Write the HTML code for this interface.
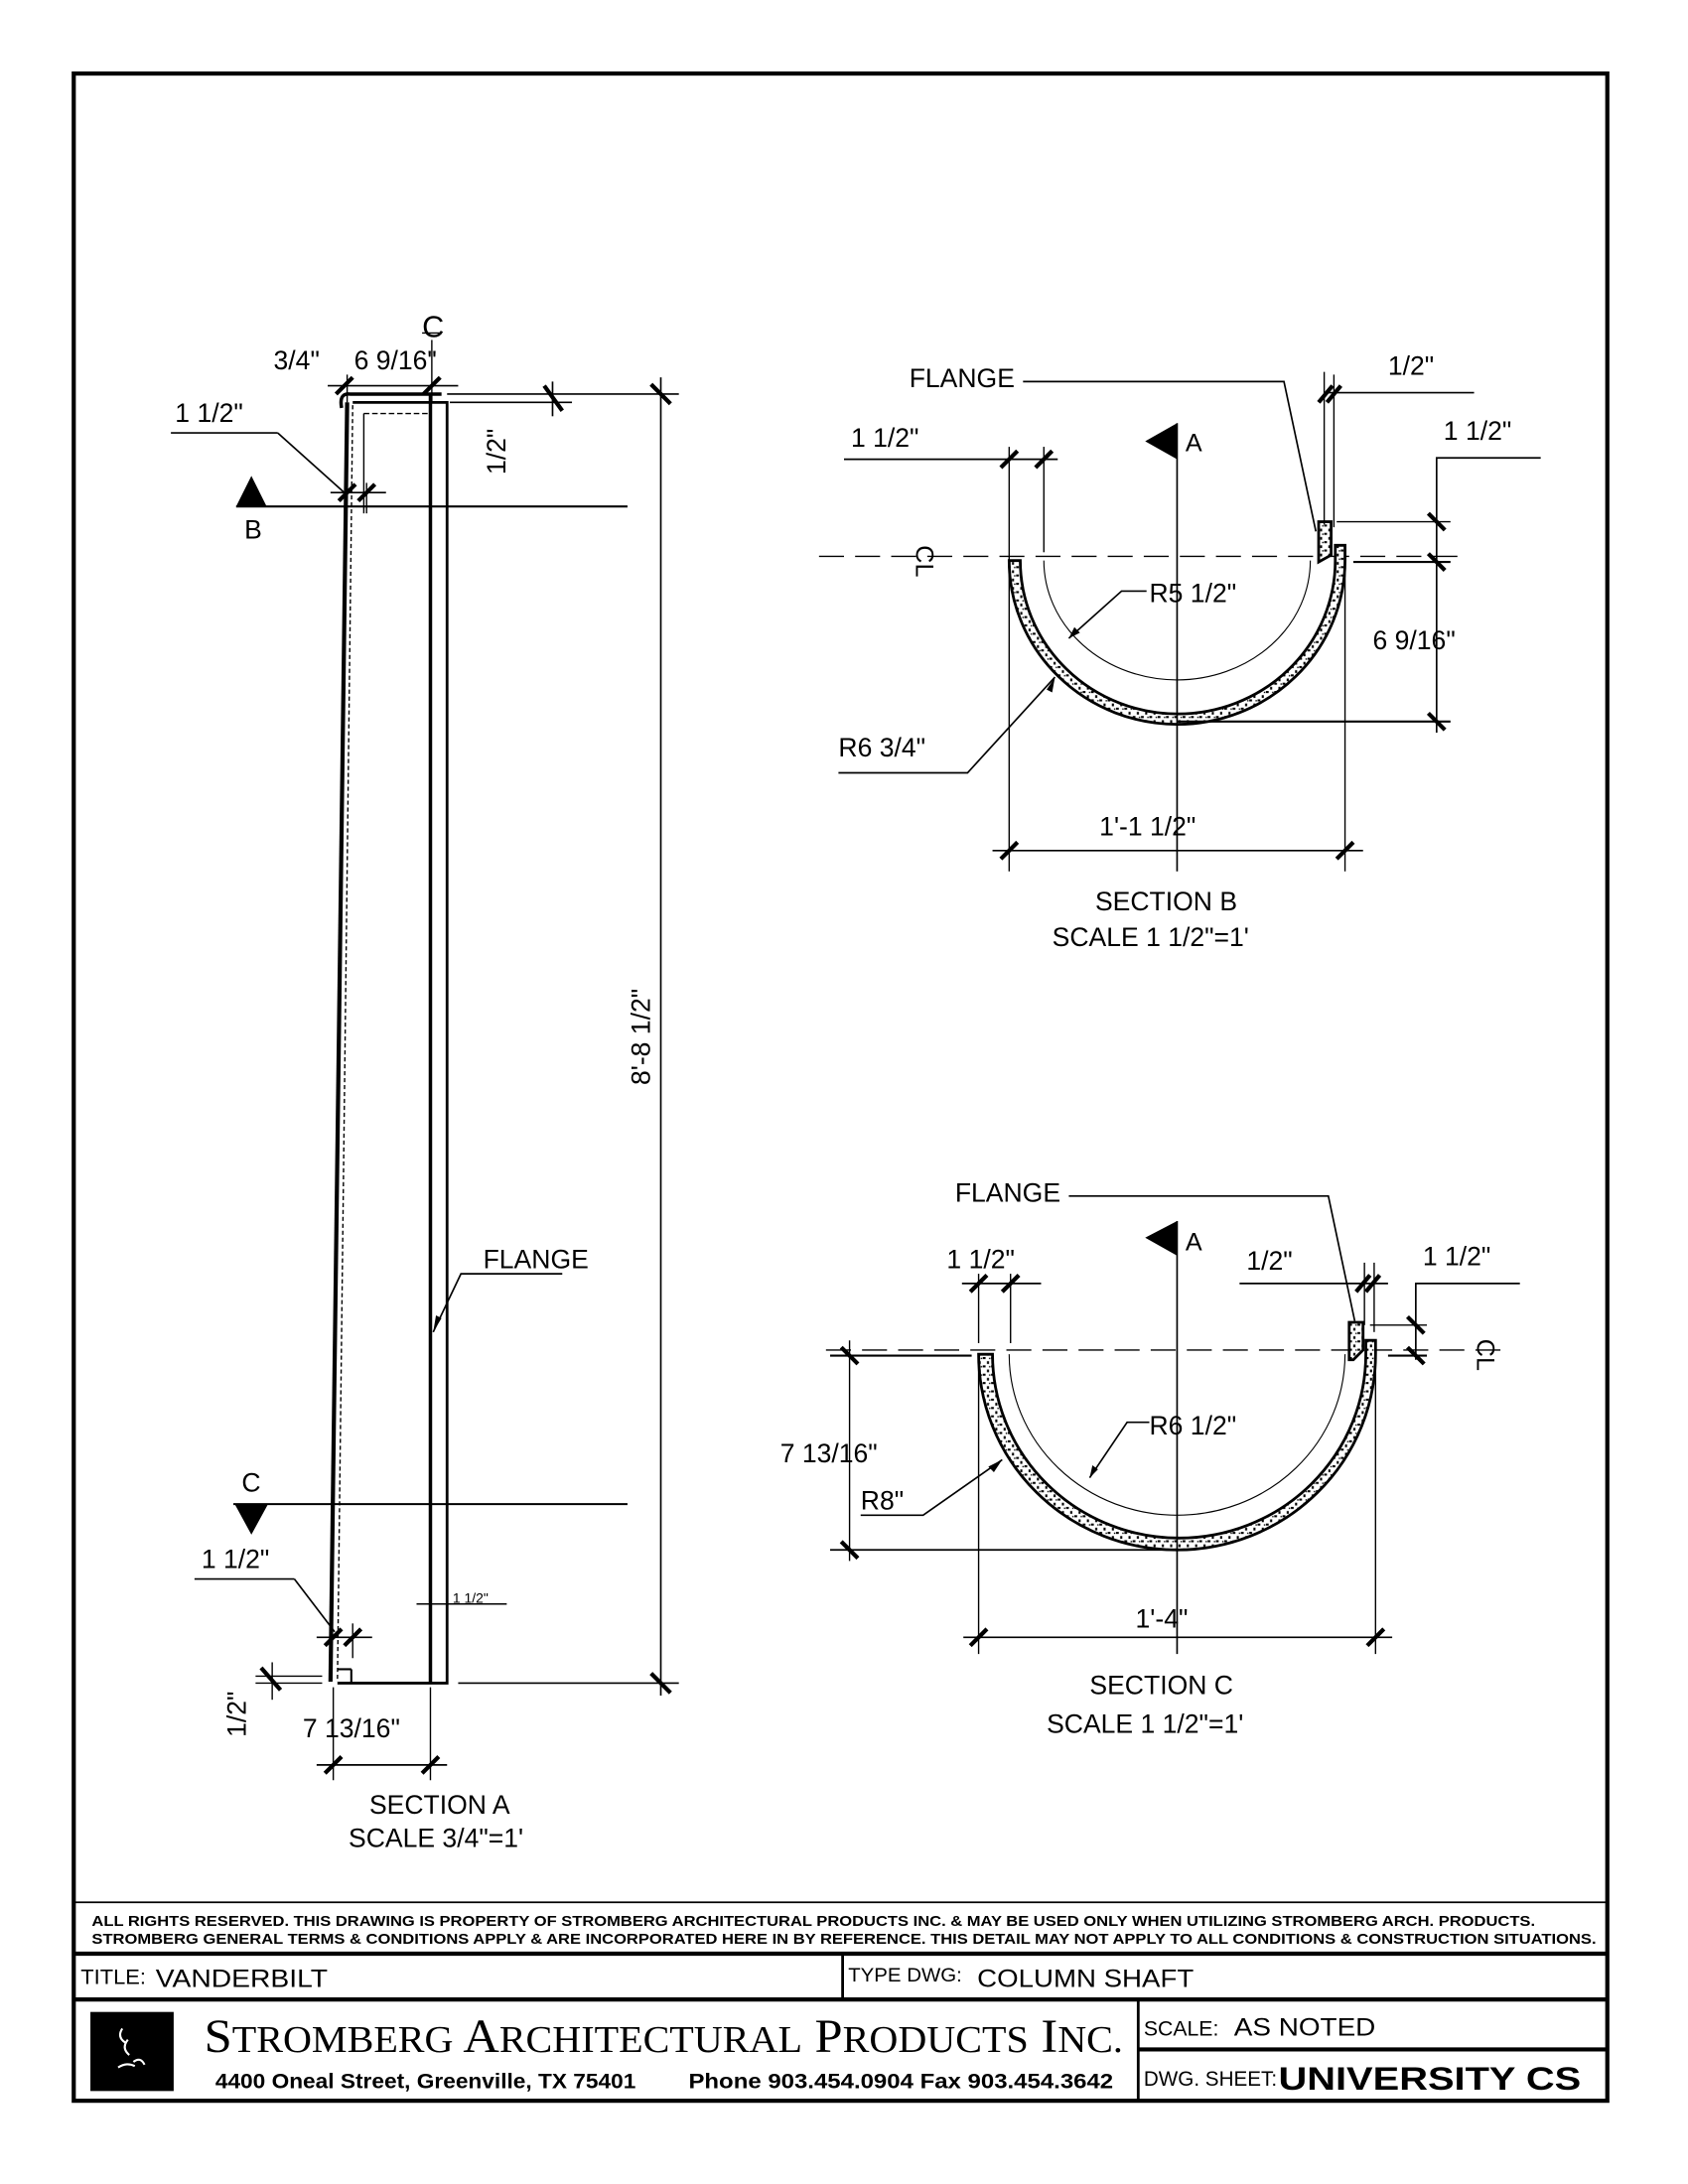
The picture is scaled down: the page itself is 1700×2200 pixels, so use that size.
<!DOCTYPE html>
<html><head><meta charset="utf-8"><style>
html,body{margin:0;padding:0;background:#fff;}
svg{display:block;}
.t{font-family:"Liberation Sans",sans-serif;font-size:19px;fill:#000;}
.d{font-family:"Liberation Sans",sans-serif;font-weight:bold;fill:#000;}
</style></head><body>
<svg width="1700" height="2200" viewBox="0 0 1216 1574" xmlns="http://www.w3.org/2000/svg">
<defs>
<pattern id="hat" width="6" height="6" patternUnits="userSpaceOnUse">
<rect width="6" height="6" fill="#fff"/>
<rect x="0" y="0" width="2" height="1.5" fill="#000"/><rect x="3" y="3" width="1.5" height="2" fill="#000"/><rect x="4.5" y="0.5" width="1" height="1" fill="#000"/>
</pattern>
</defs>
<g stroke="#000" fill="none">
<rect x="53" y="53" width="1105" height="1461" stroke-width="3"/>
<line x1="53" y1="1371" x2="1158" y2="1371" stroke-width="1.2"/>
<line x1="53" y1="1408" x2="1158" y2="1408" stroke-width="3"/>
<line x1="53" y1="1441" x2="1158" y2="1441" stroke-width="3"/>
<line x1="607" y1="1408" x2="607" y2="1441" stroke-width="2"/>
<line x1="820" y1="1441" x2="820" y2="1514" stroke-width="2"/>
<line x1="820" y1="1477" x2="1158" y2="1477" stroke-width="3"/>

<path d="M250 290 L238 1212" stroke-width="3"/>
<path d="M254 292 L243 1212" stroke-width="1" stroke-dasharray="3 2"/>
<path d="M246 294 Q244 283 252 284 L318 284" stroke-width="2.5"/>
<path d="M254 290 L322 290 L322 1213 L243 1213" stroke-width="2"/>
<line x1="310" y1="284" x2="310" y2="1213" stroke-width="2.5"/>
<line x1="262" y1="298" x2="310" y2="298" stroke-width="1" stroke-dasharray="4 2"/>
<line x1="262" y1="298" x2="262" y2="370" stroke-width="1"/>
<line x1="243" y1="1203" x2="253" y2="1203" stroke-width="1.5"/>
<line x1="253" y1="1203" x2="253" y2="1213" stroke-width="1.5"/>
<line x1="322" y1="284" x2="489" y2="284" stroke-width="1.2"/>
<line x1="476" y1="272" x2="476" y2="1222" stroke-width="1.2"/>
<line x1="330" y1="1213" x2="489" y2="1213" stroke-width="1.2"/>
<line x1="324" y1="290" x2="412" y2="290" stroke-width="1.2"/>
<line x1="398" y1="275" x2="398" y2="300" stroke-width="1.2"/>
<line x1="236" y1="278" x2="330" y2="278" stroke-width="1.2"/>
<line x1="250" y1="270" x2="250" y2="290" stroke-width="1"/>
<line x1="311" y1="245" x2="311" y2="290" stroke-width="1"/>
<line x1="123" y1="312" x2="200" y2="312" stroke-width="1.2"/>
<line x1="200" y1="312" x2="248" y2="355" stroke-width="1.2"/>
<line x1="238" y1="355" x2="278" y2="355" stroke-width="1.2"/>
<line x1="264" y1="348" x2="264" y2="370" stroke-width="1"/>
<line x1="170" y1="365" x2="452" y2="365" stroke-width="1.5"/>
<line x1="168" y1="1084" x2="452" y2="1084" stroke-width="1.5"/>
<line x1="140" y1="1138" x2="212" y2="1138" stroke-width="1.2"/>
<line x1="212" y1="1138" x2="241" y2="1176" stroke-width="1.2"/>
<line x1="228" y1="1180" x2="268" y2="1180" stroke-width="1.2"/>
<line x1="254" y1="1170" x2="254" y2="1195" stroke-width="1"/>
<line x1="184" y1="1208" x2="232" y2="1208" stroke-width="1"/>
<line x1="184" y1="1213" x2="232" y2="1213" stroke-width="1"/>
<line x1="196" y1="1198" x2="196" y2="1225" stroke-width="1"/>
<line x1="240" y1="1216" x2="240" y2="1283" stroke-width="1"/>
<line x1="310" y1="1216" x2="310" y2="1283" stroke-width="1"/>
<line x1="228" y1="1272" x2="322" y2="1272" stroke-width="1.2"/>
<line x1="300" y1="1156" x2="365" y2="1156" stroke-width="1"/>
<polyline points="405,918 332,918 312,960" stroke-width="1.2"/>
<g stroke-width="3">
<line x1="242" y1="284" x2="254" y2="272"/><line x1="305" y1="284" x2="317" y2="272"/>
<line x1="392" y1="278" x2="405" y2="296"/><line x1="469" y1="277" x2="483" y2="291"/><line x1="469" y1="1206" x2="483" y2="1220"/>
<line x1="244" y1="361" x2="256" y2="349"/><line x1="258" y1="361" x2="270" y2="349"/>
<line x1="234" y1="1186" x2="246" y2="1174"/><line x1="248" y1="1186" x2="260" y2="1174"/>
<line x1="188" y1="1202" x2="202" y2="1218"/>
<line x1="234" y1="1278" x2="246" y2="1266"/><line x1="304" y1="1278" x2="316" y2="1266"/>
</g>
</g>
<polygon points="181,343 170,365 192,365" fill="#000"/>
<polygon points="169,1084 193,1084 181,1106" fill="#000"/>
<polygon points="312,960 314,948 318,950" fill="#000"/>
<g class="t">
<text x="197" y="266">3/4"</text><text x="255" y="266">6  9/16"</text>
<text x="304" y="243" font-size="22">C</text><line x1="304" y1="240" x2="318" y2="240" stroke="#000"/>
<text x="126" y="304">1 1/2"</text>
<text x="176" y="388">B</text>
<text x="174" y="1075">C</text>
<text x="145" y="1130">1 1/2"</text>
<text x="218" y="1252">7 13/16"</text>
<text x="326" y="1155" font-size="10">1 1/2"</text>
<text x="348" y="914">FLANGE</text>
<text x="266" y="1307">SECTION A</text>
<text x="251" y="1331">SCALE 3/4"=1'</text>
<text transform="translate(364,342) rotate(-90)">1/2"</text>
<text transform="translate(177,1252) rotate(-90)">1/2"</text>
<text transform="translate(468,782) rotate(-90)">8'-8 1/2"</text>
</g>

<g stroke="#000" fill="none">
<line x1="590" y1="401" x2="1055" y2="401" stroke-width="1" stroke-dasharray="18 8"/>
<path d="M727 404 A121 118 0 0 0 969 404 L969 393 L962 393 L962 404 A113 110 0 0 1 735 404 Z" fill="url(#hat)" stroke-width="2"/>
<path d="M950 376 L959 376 L959 400 L950 405 Z" fill="url(#hat)" stroke-width="2"/>
<path d="M752 404 A96 86 0 0 0 944 404" stroke-width="0.8"/>
<line x1="848" y1="305" x2="848" y2="628" stroke-width="1.2"/>
<line x1="727" y1="322" x2="727" y2="628" stroke-width="1"/>
<line x1="969" y1="400" x2="969" y2="628" stroke-width="1"/>
<line x1="752" y1="322" x2="752" y2="398" stroke-width="1"/>
<line x1="715" y1="613" x2="982" y2="613" stroke-width="1.2"/>
<line x1="608" y1="331" x2="762" y2="331" stroke-width="1.2"/>
<polyline points="737,275 925,275 948,383" stroke-width="1.2"/>
<line x1="954" y1="268" x2="954" y2="378" stroke-width="1"/>
<line x1="961" y1="270" x2="961" y2="380" stroke-width="1"/>
<line x1="955" y1="283" x2="1062" y2="283" stroke-width="1.2"/>
<polyline points="1110,330 1035,330 1035,528" stroke-width="1.2"/>
<line x1="963" y1="376" x2="1045" y2="376" stroke-width="1"/>
<line x1="975" y1="405" x2="1045" y2="405" stroke-width="1.5"/>
<line x1="848" y1="520" x2="1045" y2="520" stroke-width="1.5"/>
<polyline points="826,426 808,426 770,460" stroke-width="1.2"/>
<polyline points="604,557 697,557 760,488" stroke-width="1.2"/>
<g stroke-width="3">
<line x1="721" y1="337" x2="733" y2="325"/><line x1="746" y1="337" x2="758" y2="325"/>
<line x1="721" y1="619" x2="733" y2="607"/><line x1="963" y1="619" x2="975" y2="607"/>
<line x1="950" y1="290" x2="960" y2="278"/><line x1="956" y1="290" x2="966" y2="278"/>
<line x1="1029" y1="370" x2="1041" y2="382"/><line x1="1029" y1="399" x2="1041" y2="411"/><line x1="1029" y1="514" x2="1041" y2="526"/>
</g>
</g>
<polygon points="848,305 825,318 848,331" fill="#000"/>
<polygon points="770,460 774,452 778,456" fill="#000"/>
<polygon points="760,488 754,497 758,499" fill="#000"/>
<g class="t">
<text x="655" y="279">FLANGE</text>
<text x="1000" y="270">1/2"</text>
<text x="1040" y="317">1 1/2"</text>
<text x="613" y="322">1 1/2"</text>
<text x="854" y="325" font-size="18">A</text>
<text x="828" y="434">R5 1/2"</text>
<text x="989" y="468">6 9/16"</text>
<text x="604" y="545">R6 3/4"</text>
<text x="792" y="602">1'-1 1/2"</text>
<text x="789" y="656">SECTION B</text>
<text x="758" y="682">SCALE 1 1/2"=1'</text>
<text transform="translate(660,393) rotate(90)" font-size="18">CL</text>
</g>

<g stroke="#000" fill="none">
<line x1="595" y1="973" x2="1085" y2="973" stroke-width="1" stroke-dasharray="18 8"/>
<path d="M705 976 A143 141 0 0 0 991 976 L991 966 L984 966 L984 976 A133 131 0 0 1 715 976 Z" fill="url(#hat)" stroke-width="2"/>
<path d="M972 953 L982 953 L982 973 L975 980 L972 980 Z" fill="url(#hat)" stroke-width="2"/>
<path d="M727 976 A121 116 0 0 0 969 976" stroke-width="0.8"/>
<line x1="848" y1="880" x2="848" y2="1192" stroke-width="1.2"/>
<line x1="705" y1="918" x2="705" y2="968" stroke-width="1"/>
<line x1="728" y1="918" x2="728" y2="968" stroke-width="1"/>
<line x1="705" y1="980" x2="705" y2="1192" stroke-width="1"/>
<line x1="991" y1="975" x2="991" y2="1192" stroke-width="1"/>
<line x1="694" y1="1180" x2="1003" y2="1180" stroke-width="1.2"/>
<line x1="598" y1="977" x2="700" y2="977" stroke-width="1.5"/>
<line x1="598" y1="1117" x2="848" y2="1117" stroke-width="1.2"/>
<line x1="612" y1="966" x2="612" y2="1125" stroke-width="1"/>
<line x1="693" y1="925" x2="750" y2="925" stroke-width="1.2"/>
<line x1="893" y1="925" x2="1000" y2="925" stroke-width="1.2"/>
<line x1="983" y1="910" x2="983" y2="955" stroke-width="1"/>
<line x1="990" y1="910" x2="990" y2="960" stroke-width="1"/>
<polyline points="1095,925 1020,925 1020,980" stroke-width="1.2"/>
<line x1="987" y1="955" x2="1028" y2="955" stroke-width="1"/>
<line x1="1000" y1="977" x2="1028" y2="977" stroke-width="1.5"/>
<polyline points="770,862 957,862 976,952" stroke-width="1.2"/>
<polyline points="828,1025 812,1025 785,1065" stroke-width="1.2"/>
<polyline points="620,1092 665,1092 722,1052" stroke-width="1.2"/>
<g stroke-width="3">
<line x1="699" y1="931" x2="711" y2="919"/><line x1="722" y1="931" x2="734" y2="919"/>
<line x1="699" y1="1186" x2="711" y2="1174"/><line x1="985" y1="1186" x2="997" y2="1174"/>
<line x1="977" y1="931" x2="987" y2="919"/><line x1="984" y1="931" x2="994" y2="919"/>
<line x1="1014" y1="949" x2="1026" y2="961"/><line x1="1014" y1="971" x2="1026" y2="983"/>
<line x1="606" y1="971" x2="618" y2="983"/><line x1="606" y1="1111" x2="618" y2="1123"/>
</g>
</g>
<polygon points="848,880 825,892 848,905" fill="#000"/>
<polygon points="785,1065 787,1056 791,1059" fill="#000"/>
<polygon points="722,1052 712,1057 716,1061" fill="#000"/>
<g class="t">
<text x="688" y="866">FLANGE</text>
<text x="854" y="901" font-size="18">A</text>
<text x="682" y="914">1 1/2"</text>
<text x="898" y="915">1/2"</text>
<text x="1025" y="912">1 1/2"</text>
<text x="828" y="1034">R6 1/2"</text>
<text x="562" y="1054">7 13/16"</text>
<text x="620" y="1088">R8"</text>
<text x="818" y="1173">1'-4"</text>
<text x="785" y="1221">SECTION C</text>
<text x="754" y="1249">SCALE 1 1/2"=1'</text>
<text transform="translate(1064,965) rotate(90)" font-size="18">CL</text>
</g>

<text class="d" x="66" y="1388" font-size="10.5" textLength="1040" lengthAdjust="spacingAndGlyphs">ALL RIGHTS RESERVED. THIS DRAWING IS PROPERTY OF STROMBERG ARCHITECTURAL PRODUCTS INC. &amp; MAY BE USED ONLY WHEN UTILIZING STROMBERG ARCH. PRODUCTS.</text>
<text class="d" x="66" y="1401" font-size="10.5" textLength="1084" lengthAdjust="spacingAndGlyphs">STROMBERG GENERAL TERMS &amp; CONDITIONS APPLY &amp; ARE INCORPORATED HERE IN BY REFERENCE. THIS DETAIL MAY NOT APPLY TO ALL CONDITIONS &amp; CONSTRUCTION SITUATIONS.</text>
<text x="58" y="1430" font-family="Liberation Sans, sans-serif" font-size="15" textLength="47" lengthAdjust="spacingAndGlyphs">TITLE:</text>
<text x="112" y="1432" font-family="Liberation Sans, sans-serif" font-size="18" textLength="124" lengthAdjust="spacingAndGlyphs">VANDERBILT</text>
<text x="611" y="1428" font-family="Liberation Sans, sans-serif" font-size="14" textLength="82" lengthAdjust="spacingAndGlyphs">TYPE DWG:</text>
<text x="704" y="1432" font-family="Liberation Sans, sans-serif" font-size="18" textLength="156" lengthAdjust="spacingAndGlyphs">COLUMN SHAFT</text>
<rect x="65" y="1450" width="60" height="57" fill="#000"/>
<path d="M88 1462 q-4 6 2 10 M92 1470 q-5 6 1 11 M85 1490 q6 -4 12 -1 M96 1486 q5 -4 8 2" stroke="#fff" stroke-width="1.5" fill="none"/>
<text x="147" y="1479" font-family="Liberation Serif, serif" font-size="34" textLength="662" lengthAdjust="spacingAndGlyphs">S<tspan font-size="27">TROMBERG</tspan> A<tspan font-size="27">RCHITECTURAL</tspan> P<tspan font-size="27">RODUCTS</tspan> I<tspan font-size="27">NC.</tspan></text>
<text x="155" y="1505" font-family="Liberation Sans, sans-serif" font-weight="bold" font-size="15" textLength="303" lengthAdjust="spacingAndGlyphs">4400 Oneal Street, Greenville, TX  75401</text>
<text x="496" y="1505" font-family="Liberation Sans, sans-serif" font-weight="bold" font-size="15" textLength="306" lengthAdjust="spacingAndGlyphs">Phone 903.454.0904   Fax 903.454.3642</text>
<text x="824" y="1467" font-family="Liberation Sans, sans-serif" font-size="15" textLength="54" lengthAdjust="spacingAndGlyphs">SCALE:</text>
<text x="889" y="1467" font-family="Liberation Sans, sans-serif" font-size="18" textLength="102" lengthAdjust="spacingAndGlyphs">AS NOTED</text>
<text x="824" y="1503" font-family="Liberation Sans, sans-serif" font-size="15" textLength="96" lengthAdjust="spacingAndGlyphs">DWG. SHEET:</text>
<text x="921" y="1506" font-family="Liberation Sans, sans-serif" font-weight="bold" font-size="23" textLength="218" lengthAdjust="spacingAndGlyphs">UNIVERSITY CS</text>
</svg>
</body></html>
